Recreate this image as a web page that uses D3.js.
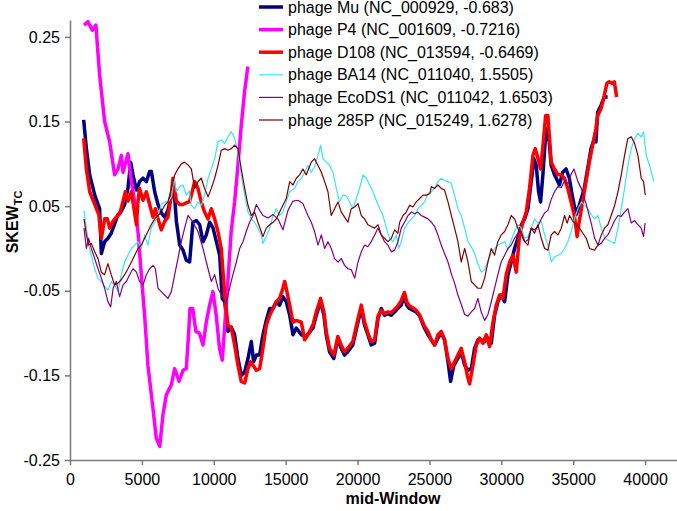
<!DOCTYPE html>
<html><head><meta charset="utf-8">
<script src="https://cdn.jsdelivr.net/npm/d3@7"></script>
<style>
body{margin:0;background:#fff}
svg{display:block}
text{font-family:"Liberation Sans",Arial,Helvetica,sans-serif}
</style>
</head><body>
<svg id="chart" width="677" height="511"></svg>
<script>
// ---- data ----
const seriesNames = ["phage Mu (NC_000929, -0.683)","phage P4 (NC_001609, -0.7216)","phage D108 (NC_013594, -0.6469)","phage BA14 (NC_011040, 1.5505)","phage EcoDS1 (NC_011042, 1.6503)","phage 285P (NC_015249, 1.6278)"];
const xTicks = [0,5000,10000,15000,20000,25000,30000,35000,40000];
const yTicks = [-0.25,-0.15,-0.05,0.05,0.15,0.25];
const yTickLabels = ["-0.25","-0.15","-0.05","0.05","0.15","0.25"];

const mu = [[950,.152],[1140,.118],[1370,.087],[1720,.063],[2060,.047],[2180,-.006],[2410,.008],[2640,.012],[2870,.018],[3340,.04],[3570,.044],[3800,.052],[4030,.071],[4220,.102],[4380,.087],[4620,.069],[4840,.079],[5080,.083],[5310,.079],[5540,.091],[5660,.091],[5890,.067],[6120,.052],[6350,.042],[6580,.037],[6810,.045],[7050,.063],[7230,.071],[7400,.032],[7630,.004],[7860,-.002],[8090,-.014],[8320,-.016],[8550,.031],[8790,.033],[9020,.028],[9250,.008],[9480,.016],[9710,.031],[9950,.024],[10180,.008],[10410,-.008],[10590,-.059],[10760,-.063],[10990,-.098],[11220,-.093],[11450,-.102],[11680,-.13],[11920,-.15],[12150,-.146],[12380,-.13],[12610,-.11],[12770,-.134],[12960,-.126],[13190,-.126],[13420,-.102],[13650,-.085],[13890,-.071],[14120,-.071],[14350,-.063],[14580,-.067],[14810,-.057],[15040,-.063],[15280,-.079],[15510,-.102],[15740,-.094],[16090,-.102],[16430,-.104],[16900,-.094],[17130,-.079],[17430,-.063],[17660,-.079],[17820,-.102],[18050,-.122],[18350,-.13],[18630,-.107],[18860,-.118],[19090,-.126],[19320,-.122],[19670,-.114],[20030,-.087],[20260,-.071],[20490,-.091],[20720,-.102],[20950,-.114],[21190,-.112],[21420,-.083],[21650,-.071],[21880,-.079],[22110,-.077],[22340,-.079],[22570,-.075],[22800,-.071],[23030,-.067],[23260,-.057],[23420,-.067],[23610,-.071],[23840,-.073],[24070,-.075],[24300,-.079],[24650,-.094],[24900,-.102],[25130,-.108],[25360,-.114],[25590,-.106],[25820,-.1],[26050,-.108],[26290,-.134],[26470,-.157],[26700,-.138],[26980,-.13],[27210,-.122],[27450,-.138],[27680,-.144],[27910,-.142],[28140,-.118],[28370,-.108],[28600,-.108],[28840,-.11],[29070,-.106],[29300,-.112],[29530,-.079],[29760,-.063],[29990,-.055],[30230,-.063],[30460,-.031],[30690,-.016],[30920,0],[31150,.012],[31390,.028],[31620,.035],[31850,.047],[32080,.079],[32270,.106],[32430,.098],[32590,.067],[32730,.055],[32890,.087],[33050,.126],[33190,.142],[33330,.126],[33470,.098],[33700,.087],[34040,.075],[34270,.09],[34500,.094],[34730,.083],[34960,.06],[35200,.04],[35420,.051],[35770,.071],[36000,.094],[36240,.118],[36470,.13],[36580,.126],[36700,.161],[36930,.169],[37160,.179],[37390,.179]];

const p4 = [[970,.264],[1250,.268],[1550,.258],[1800,.264],[2060,.205],[2410,.15],[2760,.126],[3100,.087],[3340,.094],[3570,.11],[3690,.09],[4030,.112],[4270,.079],[4500,.055],[4730,.02],[4960,-.031],[5190,-.079],[5420,-.138],[5770,-.189],[6000,-.224],[6240,-.234],[6470,-.196],[6700,-.173],[7050,-.161],[7280,-.142],[7580,-.157],[7860,-.144],[8090,-.142],[8250,-.1],[8345,-.071],[8540,-.071],[8750,-.098],[9000,-.1],[9250,-.114],[9480,-.087],[9710,-.067],[9940,-.051],[10170,-.079],[10400,-.118],[10590,-.132],[10750,-.094],[10980,-.039],[11210,.02],[11450,.055],[11680,.098],[11910,.145],[12140,.185],[12370,.215]];

const d108 = [[950,.13],[1140,.094],[1370,.067],[1720,.052],[2000,.04],[2180,.012],[2410,.035],[2600,.035],[2760,.024],[2990,.032],[3220,.037],[3460,.041],[3690,.056],[3850,.067],[4030,.056],[4270,.067],[4450,.047],[4620,.028],[4730,.056],[4840,.071],[5080,.057],[5310,.067],[5540,.052],[5770,.037],[5940,.047],[6120,.035],[6350,.022],[6580,.032],[6810,.037],[7050,.063],[7160,.083],[7400,.056],[7630,.052],[7860,.052],[8090,.054],[8300,.055],[8440,.063],[8670,.079],[8900,.071],[9130,.055],[9360,.043],[9600,.035],[9830,.047],[10060,.035],[10290,.02],[10520,0],[10760,-.055],[10990,-.091],[11220,-.094],[11450,-.114],[11680,-.138],[11910,-.157],[12150,-.159],[12380,-.142],[12560,-.134],[12730,-.138],[12960,-.144],[13190,-.142],[13420,-.118],[13650,-.091],[13890,-.079],[14120,-.071],[14350,-.063],[14580,-.059],[14810,-.047],[14930,-.039],[15040,-.047],[15280,-.067],[15510,-.087],[15740,-.085],[16090,-.087],[16320,-.108],[16550,-.102],[16900,-.09],[17130,-.075],[17430,-.059],[17660,-.075],[17820,-.098],[18050,-.118],[18350,-.126],[18630,-.104],[18860,-.114],[19090,-.122],[19320,-.118],[19670,-.11],[20030,-.083],[20260,-.067],[20490,-.087],[20720,-.1],[20950,-.11],[21190,-.108],[21420,-.08],[21650,-.073],[21880,-.077],[22110,-.075],[22340,-.076],[22570,-.072],[22800,-.068],[23030,-.062],[23260,-.052],[23420,-.063],[23610,-.068],[23840,-.07],[24070,-.073],[24300,-.078],[24650,-.092],[24896,-.098],[25130,-.108],[25360,-.114],[25590,-.102],[25820,-.098],[26050,-.108],[26290,-.13],[26520,-.142],[26750,-.134],[26980,-.126],[27210,-.118],[27450,-.134],[27630,-.15],[27790,-.16],[28030,-.138],[28260,-.114],[28490,-.106],[28720,-.112],[28950,-.102],[29180,-.116],[29420,-.087],[29650,-.067],[29880,-.055],[30110,-.059],[30340,-.031],[30580,-.016],[30810,-.008],[31040,-.028],[31270,.016],[31500,.031],[31730,.043],[31960,.071],[32200,.11],[32360,.118],[32550,.106],[32730,.094],[32920,.126],[33080,.157],[33240,.157],[33470,.102],[33700,.094],[33930,.087],[34160,.087],[34390,.083],[34620,.071],[34850,.055],[35080,.039],[35270,.014],[35420,.032],[35650,.055],[35890,.079],[36120,.102],[36350,.122],[36580,.142],[36700,.157],[36930,.165],[37160,.181],[37340,.195],[37500,.197],[37740,.195],[37860,.197],[38020,.179]];

const ba14 = [[975,.045],[1140,.024],[1300,.004],[1480,-.008],[1720,-.024],[1950,-.035],[2180,-.039],[2410,-.045],[2640,-.049],[2870,-.039],[3100,-.043],[3340,-.051],[3570,-.031],[3800,-.016],[4030,-.008],[4270,0],[4500,.004],[4730,.008],[4960,0],[5190,.016],[5420,.004],[5650,.024],[5890,.031],[6120,.039],[6350,.052],[6580,.055],[6810,.055],[7050,.061],[7230,.083],[7400,.067],[7630,.073],[7860,.075],[8090,.063],[8300,.068],[8440,.051],[8670,.047],[8900,.055],[9130,.051],[9360,.063],[9600,.083],[9830,.094],[10060,.106],[10290,.126],[10520,.128],[10760,.124],[10990,.132],[11220,.138],[11450,.13],[11680,.114],[11910,.087],[12150,.063],[12380,.043],[12610,.035],[12840,.031],[13070,.024],[13300,.016],[13420,.006],[13650,.014],[13890,.024],[14120,.039],[14350,.047],[14580,.039],[14810,.043],[15040,.055],[15280,.067],[15620,.071],[15850,.079],[16090,.083],[16320,.09],[16550,.098],[16780,.09],[17010,.096],[17250,.11],[17430,.122],[17600,.106],[17830,.102],[18060,.098],[18290,.09],[18520,.071],[18750,.055],[18980,.063],[19220,.062],[19450,.055],[19680,.047],[19910,.059],[20140,.071],[20380,.087],[20610,.083],[20840,.075],[21070,.067],[21300,.057],[21540,.047],[21770,.039],[22000,.024],[22230,.012],[22460,.008],[22690,.016],[22860,0],[23040,.008],[23270,.024],[23500,.03],[23740,.035],[23970,.039],[24200,.047],[24430,.051],[24660,.055],[24900,.065],[25130,.067],[25360,.071],[25590,.079],[25820,.083],[26050,.08],[26290,.079],[26520,.077],[26750,.063],[26980,.047],[27210,.039],[27450,.024],[27680,.008],[27910,.002],[28140,-.006],[28370,-.018],[28600,-.028],[28840,-.025],[29070,-.014],[29300,-.006],[29530,0],[29760,.004],[29990,.006],[30230,.008],[30460,-.002],[30690,.01],[30920,.02],[31150,.028],[31390,.024],[31620,.012],[31850,.014],[32080,.024],[32310,.035],[32540,.03],[32780,.032],[33010,.016],[33240,.004],[33470,-.016],[33700,-.01],[33935,-.008],[34170,-.006],[34400,0],[34630,.008],[34860,.02],[35090,.035],[35330,.047],[35560,.055],[35790,.051],[36020,.047],[36250,.04],[36490,.035],[36720,.039],[36950,.024],[37180,.012],[37410,.01],[37640,.008],[37880,.006],[38110,.024],[38340,.047],[38570,.071],[38800,.098],[39040,.118],[39270,.13],[39500,.136],[39730,.132],[39890,.138],[40080,.11],[40310,.098],[40610,.079]];

const ecods1 = [[975,.024],[1140,0],[1300,.012],[1480,0],[1720,-.012],[1950,-.024],[2180,-.035],[2410,-.047],[2640,-.063],[2830,-.069],[3000,-.047],[3220,-.039],[3450,-.057],[3690,-.043],[3920,-.039],[4150,-.031],[4380,-.024],[4620,-.028],[4840,-.039],[5080,-.043],[5310,-.031],[5540,-.024],[5770,-.02],[5940,-.024],[6120,-.047],[6350,-.051],[6580,-.055],[6810,-.059],[7050,-.051],[7280,-.031],[7510,-.012],[7740,.008],[7970,.024],[8210,.039],[8550,.031],[8900,.02],[9250,0],[9600,-.024],[9830,-.039],[10060,-.031],[10290,-.047],[10520,-.055],[10870,-.065],[11100,-.047],[11330,-.031],[11570,-.016],[11800,0],[12030,.008],[12260,.02],[12490,.031],[12730,.039],[12960,.052],[13190,.045],[13420,.039],[13770,.036],[14120,.04],[14460,.035],[14810,.022],[15160,.045],[15510,.056],[15860,.057],[16200,.053],[16550,.039],[16780,.031],[17010,.02],[17250,.004],[17480,.016],[17710,0],[17940,.008],[18170,0],[18400,-.012],[18640,-.016],[18870,-.012],[19100,-.02],[19330,-.024],[19560,-.025],[19800,-.035],[20030,-.016],[20260,-.004],[20490,.004],[20720,.002],[20950,.008],[21190,.016],[21420,.024],[21650,.016],[21880,.008],[22110,.004],[22350,-.004],[22580,-.002],[22810,.008],[23040,.024],[23270,.031],[23510,.039],[23740,.043],[23970,.041],[24200,.043],[24430,.039],[24660,.037],[24900,.035],[25130,.031],[25360,.026],[25590,.016],[25820,.004],[26050,-.006],[26290,-.016],[26520,-.03],[26750,-.041],[26980,-.055],[27210,-.066],[27450,-.078],[27680,-.08],[27910,-.075],[28140,-.071],[28370,-.059],[28600,-.075],[28840,-.085],[29070,-.078],[29300,-.063],[29530,-.047],[29760,-.031],[29990,-.016],[30230,-.008],[30460,0],[30690,.004],[30920,.012],[31150,.018],[31390,.02],[31620,.008],[31850,.01],[32080,.024],[32310,.022],[32540,.026],[32780,.035],[33010,.042],[33240,.045],[33470,.058],[33700,.067],[33935,.073],[34170,.072],[34400,.08],[34630,.076],[34860,.088],[35050,.094],[35330,.079],[35560,.071],[35790,.059],[36020,.045],[36250,.03],[36490,.012],[36720,.004],[36950,.006],[37180,.012],[37410,.016],[37640,.024],[37880,.033],[38110,.039],[38340,.038],[38570,.043],[38800,.047],[39040,.03],[39270,.033],[39500,.028],[39730,.024],[39890,.014],[40000,.03]];

const p285 = [[975,.035],[1140,.016],[1300,.004],[1480,.006],[1720,-.004],[1950,-.012],[2180,-.028],[2410,-.031],[2640,-.018],[2870,-.031],[3100,-.043],[3340,-.041],[3570,-.037],[3800,-.031],[4030,-.024],[4270,-.016],[4500,-.008],[4730,0],[4960,.004],[5190,.012],[5420,.02],[5650,.028],[5890,.035],[6120,.039],[6350,.043],[6580,.051],[6810,.055],[7050,.071],[7280,.087],[7510,.094],[7740,.1],[7970,.102],[8250,.098],[8440,.094],[8670,.071],[8900,.079],[9130,.083],[9360,.071],[9600,.061],[9830,.071],[10060,.083],[10290,.098],[10520,.116],[10760,.118],[10990,.116],[11220,.118],[11450,.122],[11680,.118],[11910,.094],[12150,.071],[12380,.051],[12610,.039],[12840,.043],[13070,.031],[13300,.02],[13420,.014],[13650,.024],[13890,.028],[14120,.031],[14350,.035],[14580,.043],[14810,.051],[15040,.059],[15280,.079],[15510,.075],[15740,.083],[15970,.087],[16200,.094],[16430,.087],[16780,.102],[17010,.106],[17250,.098],[17480,.09],[17710,.079],[17940,.067],[18170,.039],[18400,.047],[18640,.055],[18870,.043],[19100,.037],[19330,.031],[19560,.047],[19800,.049],[20030,.053],[20260,.039],[20490,.035],[20720,.028],[20950,.026],[21190,.024],[21420,.028],[21650,.016],[21880,.012],[22110,.008],[22350,.012],[22580,.022],[22810,.018],[22930,.031],[23160,.039],[23390,.043],[23620,.051],[23850,.049],[24080,.055],[24320,.059],[24550,.063],[24780,.063],[25035,.065],[25130,.073],[25360,.071],[25590,.075],[25820,.071],[26050,.069],[26290,.055],[26520,.039],[26750,.024],[26980,.008],[27210,-.016],[27450,0],[27680,-.016],[27910,-.039],[28140,-.043],[28370,-.047],[28600,-.047],[28840,-.035],[29070,-.016],[29300,0],[29530,-.008],[29760,.008],[29990,.016],[30230,.02],[30460,.028],[30690,.039],[30920,.035],[31150,.024],[31390,.016],[31620,.008],[31850,.004],[32080,.024],[32310,.018],[32540,.028],[32780,.012],[33010,0],[33240,-.002],[33470,.016],[33700,.02],[33930,.016],[34170,.024],[34400,.039],[34580,.03],[34750,.039],[34980,.032],[35210,.028],[35440,.024],[35670,.018],[35910,.012],[36140,0],[36480,-.002],[36720,.004],[36950,.016],[37180,.024],[37410,.028],[37640,.039],[37880,.051],[38110,.067],[38340,.087],[38570,.11],[38800,.13],[39040,.132],[39270,.124],[39500,.11],[39730,.083],[39890,.079],[40010,.063]];

const seriesData = [mu, p4, d108, ba14, ecods1, p285];
const seriesColors = ["#000080","#ff00ff","#ff0000","#38e6f0","#800080","#800000"];
const seriesWidths = [3.5,3.5,3.5,1.2,1.2,1.2];

// ---- chart ----
const svg = d3.select("#chart");
const x = d3.scaleLinear().domain([0,45000]).range([70,717]);
const y = d3.scaleLinear().domain([-0.25,0.27]).range([460,20]);

const axisColor = "#7a7a7a";
const gx = svg.append("g").attr("transform","translate(0,460)")
  .call(d3.axisBottom(x).tickValues(xTicks).tickFormat(d3.format("d")).tickSize(5).tickSizeOuter(0).tickPadding(9));
const gy = svg.append("g").attr("transform","translate(70,0)")
  .call(d3.axisLeft(y).tickValues(yTicks).tickFormat((d,i)=>yTickLabels[i]).tickSize(5).tickSizeOuter(0).tickPadding(5));
[gx,gy].forEach(g=>{
  g.selectAll("path.domain").attr("stroke",axisColor).attr("stroke-width",1.5);
  g.selectAll(".tick line").attr("stroke",axisColor).attr("stroke-width",1.5);
  g.selectAll(".tick text").attr("fill","#000").attr("font-size",16).attr("font-family",'"Liberation Sans",Arial,sans-serif');
});

const line = d3.line().x(d=>x(d[0])).y(d=>y(d[1]));
seriesData.forEach((s,i)=>{
  svg.append("path").datum(s).attr("d",line).attr("fill","none")
    .attr("stroke",seriesColors[i]).attr("stroke-width",seriesWidths[i])
    .attr("stroke-linejoin","round").attr("stroke-linecap","butt");
});

// axis titles
svg.append("text").attr("x",393).attr("y",504).attr("text-anchor","middle")
  .attr("font-size",16).attr("font-weight","bold").text("mid-Window");
const yt = svg.append("text").attr("transform","translate(18,222) rotate(-90)")
  .attr("text-anchor","middle").attr("font-size",16).attr("font-weight","bold");
yt.append("tspan").text("SKEW");
yt.append("tspan").attr("font-size",11).attr("dy",4).text("TC");

// legend
const lg = svg.append("g");
seriesNames.forEach((n,i)=>{
  const cy = 7 + i*22.6;
  lg.append("line").attr("x1",259).attr("x2",283).attr("y1",cy).attr("y2",cy)
    .attr("stroke",seriesColors[i]).attr("stroke-width",seriesWidths[i]);
  lg.append("text").attr("x",288).attr("y",cy).attr("dy","0.35em")
    .attr("font-size",16).attr("fill","#000").text(n);
});
</script>
</body></html>
